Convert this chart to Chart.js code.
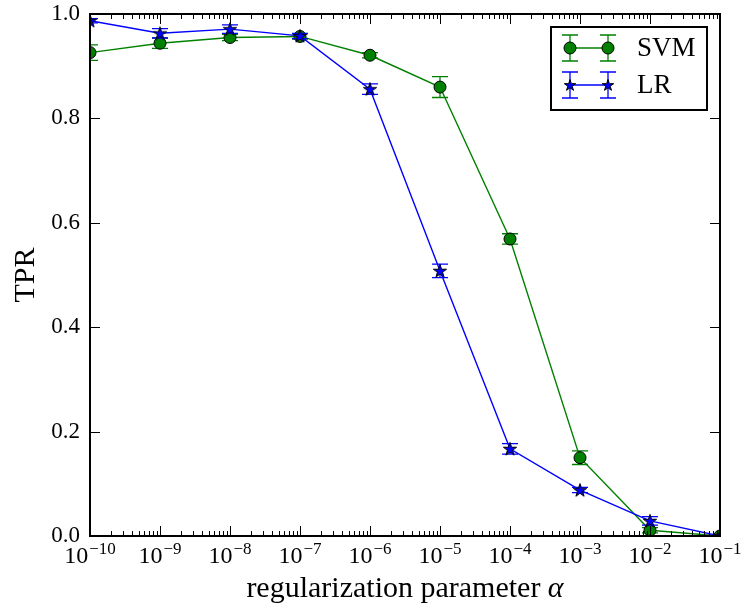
<!DOCTYPE html>
<html>
<head>
<meta charset="utf-8">
<script src="https://cdn.jsdelivr.net/npm/chart.js@4.4.0/dist/chart.umd.min.js"></script>
<style>
  html, body { margin: 0; padding: 0; background: #fff; }
</style>
</head>
<body>
<canvas id="tpr-chart" width="744" height="605"></canvas>
<script>
// regularization parameter values (x) and TPR per model
var alphas = [1e-10, 1e-9, 1e-8, 1e-7, 1e-6, 1e-5, 1e-4, 1e-3, 1e-2, 1e-1];
var alphaExps = [-10, -9, -8, -7, -6, -5, -4, -3, -2, -1];
var svmTpr = [0.926, 0.944, 0.955, 0.957, 0.921, 0.860, 0.569, 0.150, 0.011, 0.0];
var svmErr = [0.015, 0.010, 0.006, 0.005, 0.005, 0.020, 0.010, 0.013, 0.005, 0.0];
var lrTpr = [0.987, 0.963, 0.971, 0.958, 0.856, 0.508, 0.167, 0.088, 0.029, 0.0];
var lrErr = [0.004, 0.009, 0.008, 0.005, 0.010, 0.013, 0.010, 0.005, 0.008, 0.0];
var yTicks = [0, 0.2, 0.4, 0.6, 0.8, 1.0];

var FONT = "'Liberation Serif', 'DejaVu Serif', serif";

function toPoints(ys) {
  return alphas.map(function (a, i) { return { x: a, y: ys[i] }; });
}

function starPath(g, cx, cy, r) {
  g.beginPath();
  for (var i = 0; i < 10; i++) {
    var rad = i % 2 === 0 ? r : r * 0.382;
    var a = -Math.PI / 2 + i * Math.PI / 5;
    var px = cx + rad * Math.cos(a), py = cy + rad * Math.sin(a);
    if (i === 0) g.moveTo(px, py); else g.lineTo(px, py);
  }
  g.closePath();
}

function drawStar(g, cx, cy, r) {
  starPath(g, cx, cy, r);
  g.fillStyle = "#0000ff";
  g.fill();
  g.lineWidth = 1;
  g.strokeStyle = "#000";
  g.stroke();
}

function drawCircle(g, cx, cy, r) {
  g.beginPath();
  g.arc(cx, cy, r, 0, Math.PI * 2);
  g.fillStyle = "#008000";
  g.fill();
  g.lineWidth = 1;
  g.strokeStyle = "#000";
  g.stroke();
}

var starImg = document.createElement("canvas");
starImg.width = 18;
starImg.height = 18;
drawStar(starImg.getContext("2d"), 9, 9.5, 7);

function drawErrBar(g, px, top, bot, color) {
  g.strokeStyle = color;
  g.lineWidth = 1.3;
  g.beginPath();
  g.moveTo(px, top); g.lineTo(px, bot);
  g.moveTo(px - 8, top); g.lineTo(px + 8, top);
  g.moveTo(px - 8, bot); g.lineTo(px + 8, bot);
  g.stroke();
}

// error bars drawn under each dataset's line and markers
var errorBars = {
  id: "errorBars",
  beforeDatasetDraw: function (chart, args) {
    var ds = chart.data.datasets[args.index];
    var xs = chart.scales.x, ys = chart.scales.y, ctx = chart.ctx, area = chart.chartArea;
    ctx.save();
    ctx.beginPath();
    ctx.rect(area.left, area.top, area.right - area.left, area.bottom - area.top);
    ctx.clip();
    ds.data.forEach(function (p, i) {
      var e = ds.errors[i];
      if (!e) return;
      var px = xs.getPixelForValue(p.x);
      drawErrBar(ctx, px, ys.getPixelForValue(p.y + e), ys.getPixelForValue(p.y - e), ds.borderColor);
    });
    ctx.restore();
  }
};

// axes frame, inward ticks, x labels, titles and legend
var frame = {
  id: "frame",
  afterDraw: function (chart) {
    var ctx = chart.ctx, a = chart.chartArea, xs = chart.scales.x, ys = chart.scales.y;
    ctx.save();
    ctx.strokeStyle = "#000";
    ctx.lineWidth = 1;
    ctx.beginPath();
    alphaExps.forEach(function (e) {
      var px = Math.round(xs.getPixelForValue(Math.pow(10, e))) + 0.5;
      ctx.moveTo(px, a.bottom); ctx.lineTo(px, a.bottom - 10);
      ctx.moveTo(px, a.top); ctx.lineTo(px, a.top + 10);
      if (e < -1) {
        for (var k = 2; k <= 9; k++) {
          var mx = Math.round(xs.getPixelForValue(k * Math.pow(10, e))) + 0.5;
          ctx.moveTo(mx, a.bottom); ctx.lineTo(mx, a.bottom - 5);
          ctx.moveTo(mx, a.top); ctx.lineTo(mx, a.top + 5);
        }
      }
    });
    yTicks.forEach(function (v) {
      var py = Math.round(ys.getPixelForValue(v)) + 0.5;
      ctx.moveTo(a.left, py); ctx.lineTo(a.left + 10, py);
      ctx.moveTo(a.right, py); ctx.lineTo(a.right - 10, py);
    });
    ctx.stroke();
    ctx.lineWidth = 2;
    ctx.strokeRect(a.left, a.top, a.right - a.left, a.bottom - a.top);

    // x tick labels: 10 with superscript exponent
    ctx.fillStyle = "#000";
    ctx.textBaseline = "alphabetic";
    ctx.textAlign = "left";
    alphaExps.forEach(function (e) {
      var px = xs.getPixelForValue(Math.pow(10, e));
      var exp = "\u2212" + Math.abs(e);
      ctx.font = "24px " + FONT;
      var w1 = ctx.measureText("10").width;
      ctx.font = "17px " + FONT;
      var w2 = ctx.measureText(exp).width;
      var x0 = px - (w1 + w2 + 1) / 2;
      ctx.font = "24px " + FONT;
      ctx.fillText("10", x0, 563);
      ctx.font = "17px " + FONT;
      ctx.fillText(exp, x0 + w1 + 1, 554);
    });

    // x title with italic alpha
    var t1 = "regularization parameter ";
    ctx.font = "30px " + FONT;
    var tw1 = ctx.measureText(t1).width;
    ctx.font = "italic 30px " + FONT;
    var tw2 = ctx.measureText("\u03b1").width;
    var tx = (a.left + a.right) / 2 - (tw1 + tw2) / 2;
    ctx.font = "30px " + FONT;
    ctx.fillText(t1, tx, 597);
    ctx.font = "italic 30px " + FONT;
    ctx.fillText("\u03b1", tx + tw1, 597);

    // y title
    ctx.save();
    ctx.translate(34, (a.top + a.bottom) / 2);
    ctx.rotate(-Math.PI / 2);
    ctx.textAlign = "center";
    ctx.font = "30px " + FONT;
    ctx.fillText("TPR", 0, 0);
    ctx.restore();

    // legend
    var lx = 551, ly = 27, lw = 156, lh = 83;
    ctx.fillStyle = "#fff";
    ctx.fillRect(lx, ly, lw, lh);
    ctx.lineWidth = 2;
    ctx.strokeStyle = "#000";
    ctx.strokeRect(lx, ly, lw, lh);
    var rows = [{ ds: chart.data.datasets[0], y: 48 }, { ds: chart.data.datasets[1], y: 85 }];
    rows.forEach(function (r) {
      var c = r.ds.borderColor;
      ctx.strokeStyle = c;
      ctx.lineWidth = 1.4;
      ctx.beginPath();
      ctx.moveTo(570, r.y); ctx.lineTo(608, r.y);
      ctx.stroke();
      [570, 608].forEach(function (mx) {
        drawErrBar(ctx, mx, r.y - 13, r.y + 13, c);
        if (r.ds.marker === "star") drawStar(ctx, mx, r.y + 0.5, 6);
        else drawCircle(ctx, mx, r.y, 6);
      });
      ctx.fillStyle = "#000";
      ctx.font = "27px " + FONT;
      ctx.textAlign = "left";
      ctx.textBaseline = "middle";
      ctx.fillText(r.ds.label, 637, r.y + 1);
    });
    ctx.restore();
  }
};

var ctx = document.getElementById("tpr-chart");

var tprChart = new Chart(ctx, {
  type: "line",
  data: {
    datasets: [
      {
        label: "SVM",
        data: toPoints(svmTpr),
        errors: svmErr,
        marker: "circle",
        borderColor: "#008000",
        backgroundColor: "#008000",
        borderWidth: 1.4,
        pointStyle: "circle",
        pointRadius: 6,
        pointBackgroundColor: "#008000",
        pointBorderColor: "#000",
        pointBorderWidth: 1,
        tension: 0,
        clip: 0,
        order: 1
      },
      {
        label: "LR",
        data: toPoints(lrTpr),
        errors: lrErr,
        marker: "star",
        borderColor: "#0000ff",
        backgroundColor: "#0000ff",
        borderWidth: 1.4,
        pointStyle: starImg,
        pointRadius: 7,
        tension: 0,
        clip: 0,
        order: 0
      }
    ]
  },
  options: {
    responsive: false,
    animation: false,
    layout: { padding: { left: 0, right: 24, top: 14, bottom: 0 } },
    plugins: {
      legend: { display: false },
      tooltip: { enabled: false }
    },
    scales: {
      x: {
        type: "logarithmic",
        min: 1e-10,
        max: 1e-1,
        afterBuildTicks: function (s) {
          s.ticks = alphas.map(function (v) { return { value: v }; });
        },
        afterFit: function (s) {
          s.height = 69;
          s.paddingLeft = 0;
          s.paddingRight = 0;
        },
        ticks: { display: false },
        grid: { display: false, drawTicks: false },
        border: { display: false }
      },
      y: {
        min: 0,
        max: 1,
        afterBuildTicks: function (s) {
          s.ticks = yTicks.map(function (v) { return { value: v }; });
        },
        afterFit: function (s) {
          s.width = 90;
          s.paddingTop = 0;
          s.paddingBottom = 0;
        },
        ticks: {
          padding: 10,
          color: "#000",
          font: { family: FONT, size: 23 },
          callback: function (v) { return Number(v).toFixed(1); }
        },
        grid: { display: false, drawTicks: false },
        border: { display: false }
      }
    }
  },
  plugins: [errorBars, frame]
});
</script>
</body>
</html>
